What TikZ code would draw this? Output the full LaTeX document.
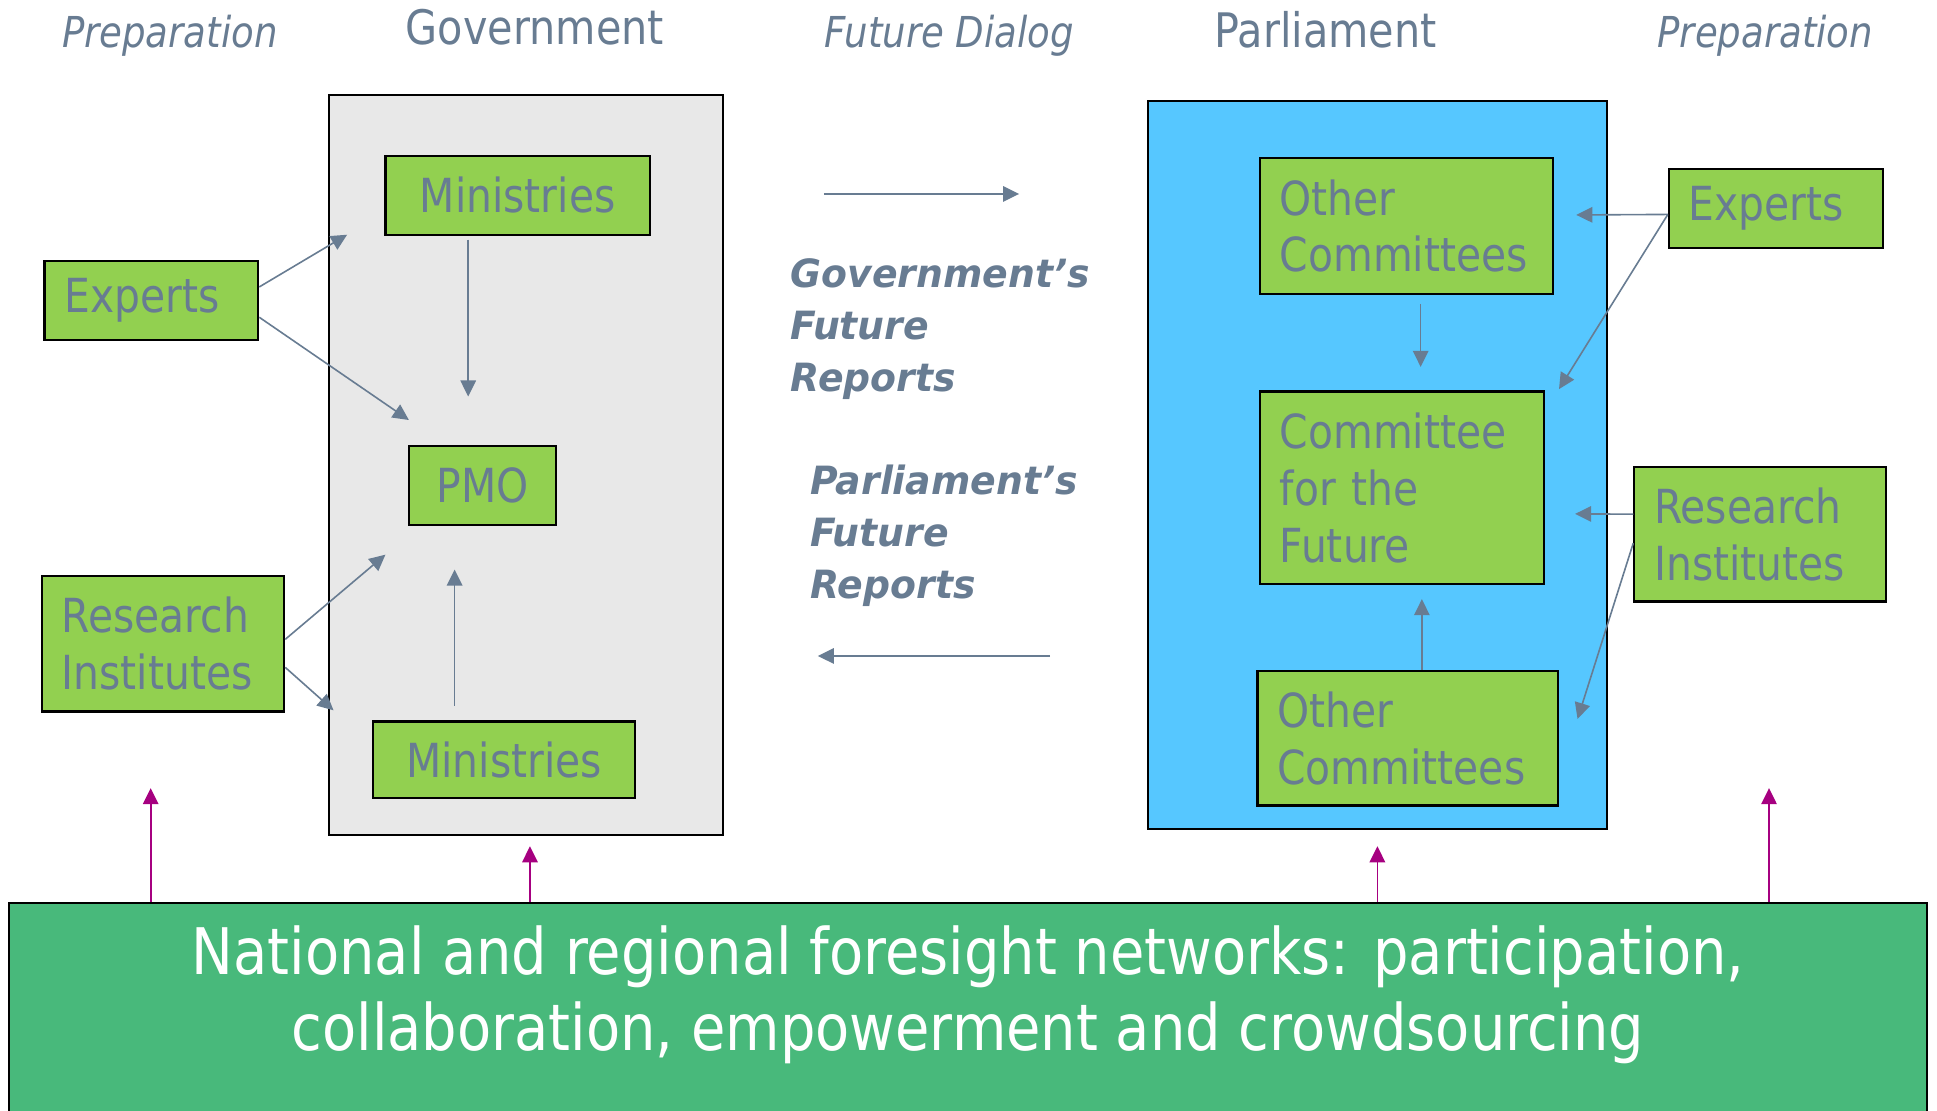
\documentclass[tikz,border=0pt]{standalone}
\usepackage{fontspec}
\setmainfont{DejaVu Sans}[FakeStretch=0.87,
  BoldFeatures={FakeStretch=0.97}, BoldItalicFeatures={FakeStretch=0.97}]
\usetikzlibrary{positioning, arrows.meta}
\definecolor{boxgreen}{RGB}{146,208,80}
\definecolor{netgreen}{RGB}{72,185,123}
\definecolor{govgray}{RGB}{232,232,232}
\definecolor{parlblue}{RGB}{86,199,255}
\definecolor{slate}{RGB}{104,124,146}
\definecolor{feedpink}{RGB}{166,0,128}
\tikzset{%
  house/.style = {rectangle, draw, line width=1.6pt, inner sep=0pt},
  unit/.style = {rectangle, draw, line width=1.8pt, fill=boxgreen, text=slate, inner sep=0pt,
                 font=\fontsize{38}{46}\selectfont},
  multi/.style = {unit, align=left, inner xsep=16pt},
  head/.style = {text=slate, inner sep=0pt, anchor=base},
  report/.style = {text=slate, inner sep=0pt, align=left, anchor=west,
                   font=\fontsize{31.5}{42}\selectfont\bfseries\itshape},
  link/.style = {draw=slate, line width=1.3pt, -{Triangle[length=13pt,width=12.5pt]}},
  feed/.style = {draw=feedpink, line width=1.4pt, -{Triangle[length=13pt,width=12.5pt]}}
}

\begin{document}
\begin{tikzpicture}[x=1pt, y=-1pt]
    \useasboundingbox (0,0) rectangle (1568,898.6);

    \node (gov)    [house, fill=govgray,  minimum width=319pt, minimum height=599pt] at (425.5,376.5) {};
    \node (parl)   [house, fill=parlblue, minimum width=372pt, minimum height=589pt] at (1115,376.5) {};

    \node (prepL)  [head, font=\fontsize{34.5}{40}\selectfont\itshape] at (137.5,38.6) {Preparation};
    \node (govt)   [head, font=\fontsize{38.5}{45}\selectfont]         at (433,35.7)   {Government};
    \node (dialog) [head, font=\fontsize{34.5}{40}\selectfont\itshape] at (768.5,38.6) {Future Dialog};
    \node (parlt)  [head, font=\fontsize{38.5}{45}\selectfont]         at (1073,38.7)  {Parliament};
    \node (prepR)  [head, font=\fontsize{34.5}{40}\selectfont\itshape] at (1429,38.6)  {Preparation};

    \node (minT)   [unit, minimum width=214pt, minimum height=64pt]   at (419,158)    {Ministries};
    \node (pmo)    [unit, minimum width=119pt, minimum height=64pt]   at (390.5,393)  {PMO};
    \node (minB)   [unit, minimum width=212pt, minimum height=62pt]   at (408,615)    {Ministries};
    \node (expL)   [multi, text width=141pt, minimum height=64pt]     at (122.5,243)  {Experts};
    \node (resL)   [multi, text width=164pt, minimum height=110pt]    at (132,521)    {Research\\Institutes};

    \node (ocT)    [multi, text width=205pt, minimum height=110pt]    at (1138.5,183) {Other\\Committees};
    \node (cff)    [multi, text width=198pt, minimum height=156pt]    at (1135,395)   {Committee\\for the\\Future};
    \node (ocB)    [multi, text width=211pt, minimum height=109pt]    at (1139.5,597.5) {Other\\Committees};
    \node (expR)   [multi, text width=141pt, minimum height=64pt]     at (1437.5,169) {Experts};
    \node (resR)   [multi, text width=172pt, minimum height=109pt]    at (1425,432.5) {Research\\Institutes};

    \node (govrep)  [report] at (640,266.7) {Government’s\\Future\\Reports};
    \node (parlrep) [report] at (656,434)   {Parliament’s\\Future\\Reports};

    \node (net) [rectangle, draw, line width=1.6pt, fill=netgreen, text=white, align=center,
                 minimum width=1553pt, minimum height=175pt, text depth=37pt, anchor=north,
                 font=\fontsize{52}{61}\selectfont] at (783.5,730)
                {National and regional foresight networks: participation,\\collaboration, empowerment and crowdsourcing};

    \coordinate (tipA) at (281,190);
    \coordinate (tipB) at (331,340);
    \coordinate (tipC) at (379,321);
    \coordinate (tipD) at (312,449);
    \coordinate (tipE) at (270,575);
    \coordinate (tipF) at (368,461);
    \coordinate (tipG) at (1276,174);
    \coordinate (tipH) at (1262,315);
    \coordinate (tipI) at (1150,297);
    \coordinate (tipJ) at (1275,416);
    \coordinate (tipK) at (1277,582);
    \coordinate (tipL) at (1151,485);
    \coordinate (dlgtail)  at (667,157);
    \coordinate (dlgtip)   at (825,157);
    \coordinate (backtail) at (850,531);
    \coordinate (backtip)  at (662,531);
    \coordinate (upA) at (122,638);
    \coordinate (upB) at (429,685);
    \coordinate (upC) at (1115,685);
    \coordinate (upD) at (1432,638);

    \draw[link] (expL.7)   -- (tipA);
    \draw[link] (expL.-9)  -- (tipB);
    \draw[link, shorten <=3pt] (minT.south -| tipC) -- (tipC);
    \draw[link] (resL.2)   -- (tipD);
    \draw[link] (resL.-11) -- (tipE);
    \draw[link, shorten <=12pt] (minB.north -| tipF) -- (tipF);
    \draw[link] (expR.183) -- (tipG);
    \draw[link] (expR.183) -- (tipH);
    \draw[link, shorten <=7pt] (ocT.south -| tipI) -- (tipI);
    \draw[link] (resR.171) -- (tipJ);
    \draw[link] (resR.184) -- (tipK);
    \draw[link] (ocB.north -| tipL) -- (tipL);
    \draw[link] (dlgtail)  -- (dlgtip);
    \draw[link] (backtail) -- (backtip);

    \draw[feed] (net.north -| upA) -- (upA);
    \draw[feed] (net.north -| upB) -- (upB);
    \draw[feed] (net.north -| upC) -- (upC);
    \draw[feed] (net.north -| upD) -- (upD);
\end{tikzpicture}
\end{document}
